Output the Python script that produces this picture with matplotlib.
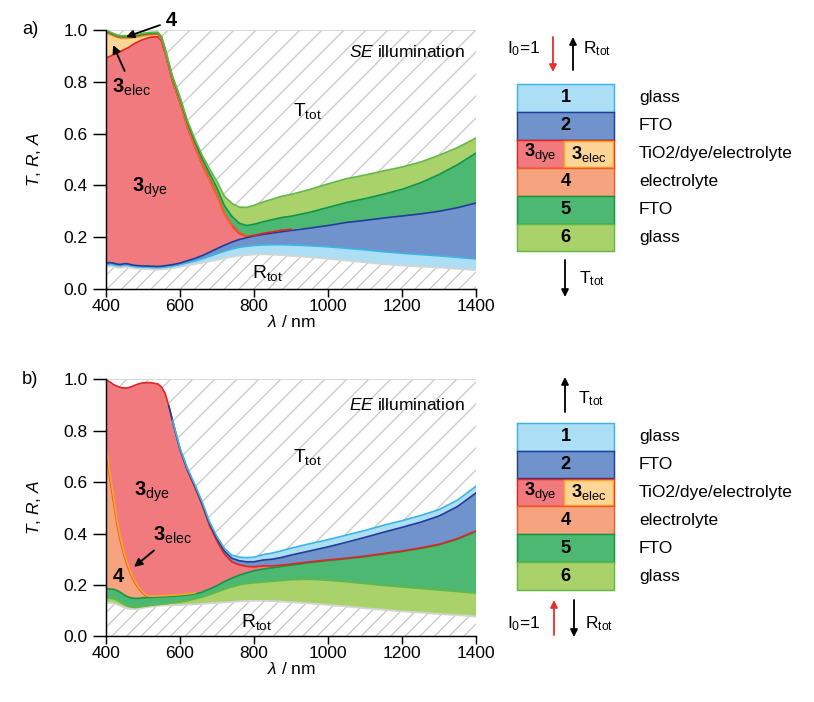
import numpy as np
import matplotlib
matplotlib.use('Agg')
import matplotlib.pyplot as plt
from matplotlib.patches import Rectangle

plt.rcParams['font.family'] = ['Liberation Sans', 'DejaVu Sans']
plt.rcParams['mathtext.fontset'] = 'custom'
plt.rcParams['mathtext.rm'] = 'Liberation Sans'
plt.rcParams['mathtext.it'] = 'Liberation Sans:italic'
plt.rcParams['mathtext.bf'] = 'Liberation Sans:bold'
plt.rcParams['hatch.linewidth'] = 0.7
plt.rcParams['hatch.color'] = '#c8c8c8'

# wavelength grid (nm)
wl = [400, 410, 420, 430, 440, 450, 460, 470, 480, 490,
      500, 510, 520, 540, 550, 560, 570, 580, 600, 620,
      640, 660, 680, 700, 720, 740, 760, 780, 800, 825,
      850, 875, 900, 950, 1000, 1050, 1100, 1150, 1200, 1250,
      1300, 1350, 1400]

# ---- a) SE illumination: total reflectance and absorptance of each layer ----
a_R = [0.086, 0.088, 0.087, 0.083, 0.082, 0.085, 0.084, 0.081, 0.079, 0.078,
       0.077, 0.077, 0.076, 0.075, 0.076, 0.077, 0.079, 0.081, 0.086, 0.091,
       0.096, 0.101, 0.107, 0.113, 0.119, 0.124, 0.128, 0.131, 0.133, 0.134,
       0.133, 0.131, 0.128, 0.123, 0.117, 0.110, 0.103, 0.096, 0.091, 0.087,
       0.083, 0.078, 0.073]
a_glass1 = [0.007] * 18 + [
    0.008, 0.010, 0.012, 0.015, 0.019, 0.023, 0.027, 0.030, 0.033, 0.034,
    0.035, 0.036, 0.038, 0.040, 0.042, 0.044, 0.046, 0.047, 0.048, 0.048,
    0.047, 0.046, 0.045, 0.044, 0.043]
a_fto2 = [0.007, 0.007, 0.006, 0.006, 0.006, 0.006, 0.006, 0.005, 0.005, 0.005,
          0.005, 0.005, 0.005, 0.005, 0.005, 0.006, 0.006, 0.006, 0.006, 0.008,
          0.010, 0.013, 0.016, 0.020, 0.023, 0.027, 0.030, 0.033, 0.037, 0.041,
          0.045, 0.050, 0.056, 0.068, 0.082, 0.100, 0.114, 0.130, 0.144, 0.157,
          0.172, 0.192, 0.216]
a_dye = [0.792, 0.796, 0.805, 0.815, 0.823, 0.827, 0.835, 0.848, 0.859, 0.867,
         0.874, 0.879, 0.884, 0.887, 0.870, 0.820, 0.763, 0.706, 0.620, 0.516,
         0.432, 0.351, 0.278, 0.204, 0.121, 0.064, 0.024, 0.005, 0.002, 0.004,
         0.005, 0.006, 0.004, 0.001, 0.0, 0.0, 0.0, 0.0, 0.0, 0.0,
         0.0, 0.0, 0.0]
a_elec3 = [0.096, 0.085, 0.072, 0.060, 0.050, 0.043, 0.036, 0.028, 0.022, 0.017,
           0.014, 0.011, 0.009, 0.008, 0.008, 0.007, 0.006, 0.006, 0.005, 0.005,
           0.004, 0.004, 0.003, 0.003, 0.002, 0.002, 0.001, 0.001] + [0.0] * 15
a_elec4 = [0.003] * 24 + [0.002] * 4 + [0.001] * 5 + [0.0] * 10
a_fto5 = [0.004] * 15 + [
    0.005, 0.006, 0.007, 0.008, 0.010, 0.013, 0.016, 0.020, 0.024, 0.028,
    0.032, 0.036, 0.039, 0.042, 0.044, 0.046, 0.048, 0.050, 0.060, 0.070,
    0.077, 0.084, 0.092, 0.103, 0.120, 0.142, 0.166, 0.193]
a_glass6 = [0.004] + [0.003] * 14 + [
    0.004, 0.004, 0.005, 0.006, 0.008, 0.010, 0.013, 0.018, 0.025, 0.036,
    0.050, 0.062, 0.070, 0.073, 0.076, 0.079, 0.082, 0.084, 0.088, 0.091,
    0.092, 0.091, 0.090, 0.086, 0.080, 0.074, 0.066, 0.058]

# ---- b) EE illumination ----
b_R = [0.130, 0.130, 0.128, 0.124, 0.118, 0.112, 0.108, 0.106, 0.106, 0.108,
       0.110, 0.113, 0.115, 0.118, 0.119, 0.120, 0.121, 0.121, 0.122, 0.123,
       0.124, 0.126, 0.128, 0.130, 0.132, 0.134, 0.136, 0.137, 0.138, 0.138,
       0.137, 0.135, 0.133, 0.128, 0.122, 0.116, 0.109, 0.103, 0.097, 0.092,
       0.087, 0.082, 0.077]
b_glass6 = [0.018, 0.018, 0.018, 0.016, 0.014, 0.011, 0.009, 0.007, 0.006, 0.006,
            0.006, 0.005, 0.005, 0.005, 0.006, 0.006, 0.007, 0.009, 0.011, 0.015,
            0.021, 0.026, 0.034, 0.042, 0.051, 0.058, 0.064, 0.068, 0.070, 0.073,
            0.077, 0.082, 0.087, 0.094, 0.096, 0.096, 0.096, 0.095, 0.095, 0.094,
            0.093, 0.092, 0.091]
b_fto5 = [0.035, 0.036, 0.037, 0.038, 0.038, 0.037, 0.036, 0.036, 0.035, 0.034,
          0.034, 0.033, 0.032, 0.030, 0.029, 0.028, 0.027, 0.026, 0.025, 0.023,
          0.020, 0.020, 0.022, 0.025, 0.030, 0.034, 0.038, 0.042, 0.047, 0.051,
          0.053, 0.055, 0.057, 0.065, 0.077, 0.090, 0.105, 0.122, 0.138, 0.156,
          0.176, 0.204, 0.240]
b_elec4 = [0.537, 0.431, 0.340, 0.254, 0.193, 0.148, 0.112, 0.080, 0.056, 0.034,
           0.017, 0.004] + [0.001] * 10 + [0.0] * 21
b_elec3 = [0.028, 0.025, 0.022, 0.018, 0.015, 0.012, 0.010, 0.008, 0.007, 0.006,
           0.005, 0.004] + [0.003] * 9 + [0.001] + [0.0] * 21
b_dye = [0.250, 0.350, 0.435, 0.523, 0.590, 0.646, 0.692, 0.735, 0.768, 0.795,
         0.814, 0.828, 0.831, 0.825, 0.812, 0.787, 0.736, 0.675, 0.563, 0.480,
         0.411, 0.336, 0.246, 0.173, 0.107, 0.064, 0.040, 0.025, 0.015, 0.012,
         0.007, 0.005, 0.004, 0.003, 0.002, 0.002, 0.002, 0.002, 0.002, 0.002,
         0.002, 0.002, 0.002]
b_fto2 = [0.001] * 16 + [
    0.002, 0.003, 0.004, 0.005, 0.006, 0.007, 0.008, 0.010, 0.012, 0.014,
    0.016, 0.018, 0.020, 0.023, 0.026, 0.030, 0.035, 0.042, 0.051, 0.062,
    0.073, 0.083, 0.092, 0.100, 0.110, 0.125, 0.148]
b_glass1 = [0.001] * 16 + [
    0.001, 0.002, 0.003, 0.004, 0.005, 0.006, 0.007, 0.008, 0.010, 0.012,
    0.014, 0.016, 0.018, 0.021, 0.024, 0.026, 0.027, 0.028, 0.028, 0.028,
    0.027, 0.027, 0.026, 0.026, 0.025, 0.025, 0.026]

fill_col = {'glass1': '#acdff5', 'fto2': '#7193cb', 'dye': '#f07a7e',
            'elec3': '#fdd697', 'elec4': '#f5a47f', 'fto5': '#4cb872',
            'glass6': '#a9d36a'}
edge_col = {'glass1': '#3cb4e6', 'fto2': '#1f3d99', 'dye': '#e3241f',
            'elec3': '#f7a823', 'elec4': '#f05a28', 'fto5': '#149447',
            'glass6': '#62b847'}
hatch_col = '#c8c8c8'

W, H, DPI = 814, 702, 132
fig = plt.figure(figsize=(W / DPI, H / DPI), dpi=DPI)

# overlay in pixel coordinates for the layer schemes and panel letters
ov = fig.add_axes([0, 0, 1, 1])
ov.set_xlim(0, W)
ov.set_ylim(H, 0)
ov.axis('off')


def draw_panel(ax, R, stack):
    ax.fill_between(wl, 0, R, facecolor='white', edgecolor=hatch_col,
                    hatch='///', lw=0)
    lo = np.array(R, dtype=float)
    tops = []
    for vals, key in stack:
        vals = np.array(vals, dtype=float)
        hi = lo + vals
        ax.fill_between(wl, lo, hi, facecolor=fill_col[key], lw=0)
        tops.append((hi, vals, key))
        lo = hi
    ax.fill_between(wl, lo, 1.0, facecolor='white', edgecolor=hatch_col,
                    hatch='//', lw=0)
    ax.plot(wl, R, color='#d4d4d4', lw=1.0)
    ax.plot([wl[0], wl[-1]], [1.0, 1.0], color='#d4d4d4', lw=1.0)
    for hi, vals, key in tops:
        ax.plot(wl, np.where(vals > 0.0015, hi, np.nan),
                color=edge_col[key], lw=0.9)

    ax.set_xlim(400, 1400)
    ax.set_ylim(0, 1.0)
    ax.set_xticks([400, 600, 800, 1000, 1200, 1400])
    ax.set_yticks([0.0, 0.2, 0.4, 0.6, 0.8, 1.0])
    ax.set_yticklabels(['0.0', '0.2', '0.4', '0.6', '0.8', '1.0'])
    for s in ['top', 'right']:
        ax.spines[s].set_visible(False)
    for s in ['left', 'bottom']:
        ax.spines[s].set_linewidth(0.8)
    ax.tick_params(axis='y', direction='out', length=7, width=0.8,
                   pad=3, labelsize=9.5)
    ax.tick_params(axis='x', direction='out', length=4.5, width=0.8,
                   pad=1, labelsize=9.5)
    ax.set_xlabel(r'$\lambda$ / nm', fontsize=9.5, labelpad=0)
    ax.set_ylabel(r'$\mathit{T}$, $\mathit{R}$, $\mathit{A}$', fontsize=9.5)
    ax.yaxis.set_label_coords(-0.17, 0.5)


def arrow(x0, y0, x1, y1, color='black'):
    ov.annotate('', xy=(x1, y1), xytext=(x0, y0),
                arrowprops=dict(arrowstyle='-|>', color=color, lw=1.0,
                                mutation_scale=8, shrinkA=0, shrinkB=0))


def draw_scheme(y0):
    x0, x1, xm, h = 517, 614, 564, 27.9
    rows = [('glass1', '1', 'glass'), ('fto2', '2', 'FTO'),
            (None, None, 'TiO2/dye/electrolyte'), ('elec4', '4', 'electrolyte'),
            ('fto5', '5', 'FTO'), ('glass6', '6', 'glass')]
    for i, (key, num, name) in enumerate(rows):
        y = y0 + i * h
        if key is None:
            ov.add_patch(Rectangle((x0, y), x1 - x0, h, fc=fill_col['dye'],
                                   ec=edge_col['dye'], lw=0.8))
            ov.add_patch(Rectangle((xm, y + 1), x1 - xm - 1, h - 2,
                                   fc=fill_col['elec3'], ec=edge_col['elec3'],
                                   lw=0.8))
            ov.text((x0 + xm) / 2, y + h / 2, r'$\mathbf{3}_{\mathrm{dye}}$',
                    ha='center', va='center', fontsize=10)
            ov.text((xm + x1) / 2, y + h / 2, r'$\mathbf{3}_{\mathrm{elec}}$',
                    ha='center', va='center', fontsize=10)
        else:
            ov.add_patch(Rectangle((x0, y), x1 - x0, h, fc=fill_col[key],
                                   ec=edge_col[key], lw=0.8))
            ov.text((x0 + x1) / 2, y + h / 2, num, ha='center', va='center',
                    fontsize=10, fontweight='bold')
        ov.text(639, y + h / 2, name, ha='left', va='center', fontsize=9.5)


# ---------------- panel a ----------------
ax1 = fig.add_axes([106 / W, (H - 289) / H, 370 / W, 259 / H])
draw_panel(ax1, a_R, [(a_glass1, 'glass1'), (a_fto2, 'fto2'), (a_dye, 'dye'),
                      (a_elec3, 'elec3'), (a_elec4, 'elec4'),
                      (a_fto5, 'fto5'), (a_glass6, 'glass6')])
ax1.text(905, 0.668, r'T$_{\mathrm{tot}}$', fontsize=10.5)
ax1.text(795, 0.042, r'R$_{\mathrm{tot}}$', fontsize=10.5)
ax1.text(1370, 0.896, r'$\mathit{SE}$ illumination', ha='right', fontsize=9.5)
ax1.text(519, 0.39, r'$\mathbf{3}_{\mathrm{dye}}$', ha='center', va='center',
         fontsize=11)
ap = dict(arrowstyle='-|>', color='black', lw=1.0, mutation_scale=9,
          shrinkA=1, shrinkB=0)
ax1.annotate(r'$\mathbf{3}_{\mathrm{elec}}$', xy=(419, 0.942), xytext=(470, 0.78),
             ha='center', va='center', fontsize=11, arrowprops=ap)
ax1.annotate(r'$\mathbf{4}$', xy=(454, 0.973), xytext=(578, 1.035),
             ha='center', va='center', fontsize=11, arrowprops=ap,
             annotation_clip=False)

# ---------------- panel b ----------------
ax2 = fig.add_axes([106 / W, (H - 636.3) / H, 370 / W, 257 / H])
draw_panel(ax2, b_R, [(b_glass6, 'glass6'), (b_fto5, 'fto5'), (b_elec4, 'elec4'),
                      (b_elec3, 'elec3'), (b_dye, 'dye'),
                      (b_fto2, 'fto2'), (b_glass1, 'glass1')])
ax2.text(905, 0.678, r'T$_{\mathrm{tot}}$', fontsize=10.5)
ax2.text(765, 0.036, r'R$_{\mathrm{tot}}$', fontsize=10.5)
ax2.text(1370, 0.881, r'$\mathit{EE}$ illumination', ha='right', fontsize=9.5)
ax2.text(524, 0.562, r'$\mathbf{3}_{\mathrm{dye}}$', ha='center', va='center',
         fontsize=11)
ax2.annotate(r'$\mathbf{3}_{\mathrm{elec}}$', xy=(476, 0.27), xytext=(580, 0.394),
             ha='center', va='center', fontsize=11, arrowprops=ap)
ax2.text(434, 0.233, r'$\mathbf{4}$', ha='center', va='center', fontsize=11)

# ---------------- schemes ----------------
ov.text(30, 30, 'a)', ha='center', va='center', fontsize=10)
ov.text(30, 380, 'b)', ha='center', va='center', fontsize=10)

draw_scheme(84)
arrow(553, 37, 553, 72, color='#e8302a')
arrow(573, 70, 573, 37)
ov.text(524, 53, r'I$_0$=1', ha='center', va='baseline', fontsize=9.5)
ov.text(583, 53, r'R$_{\mathrm{tot}}$', ha='left', va='baseline', fontsize=9.5)
arrow(565, 260, 565, 297)
ov.text(579, 283, r'T$_{\mathrm{tot}}$', ha='left', va='baseline', fontsize=9.5)

draw_scheme(422.7)
arrow(565, 412, 565, 377)
ov.text(578, 403, r'T$_{\mathrm{tot}}$', ha='left', va='baseline', fontsize=9.5)
arrow(554, 635, 554, 600, color='#e8302a')
arrow(574, 600, 574, 637)
ov.text(524, 628, r'I$_0$=1', ha='center', va='baseline', fontsize=9.5)
ov.text(585, 628, r'R$_{\mathrm{tot}}$', ha='left', va='baseline', fontsize=9.5)

fig.savefig('out.png', dpi=DPI)
